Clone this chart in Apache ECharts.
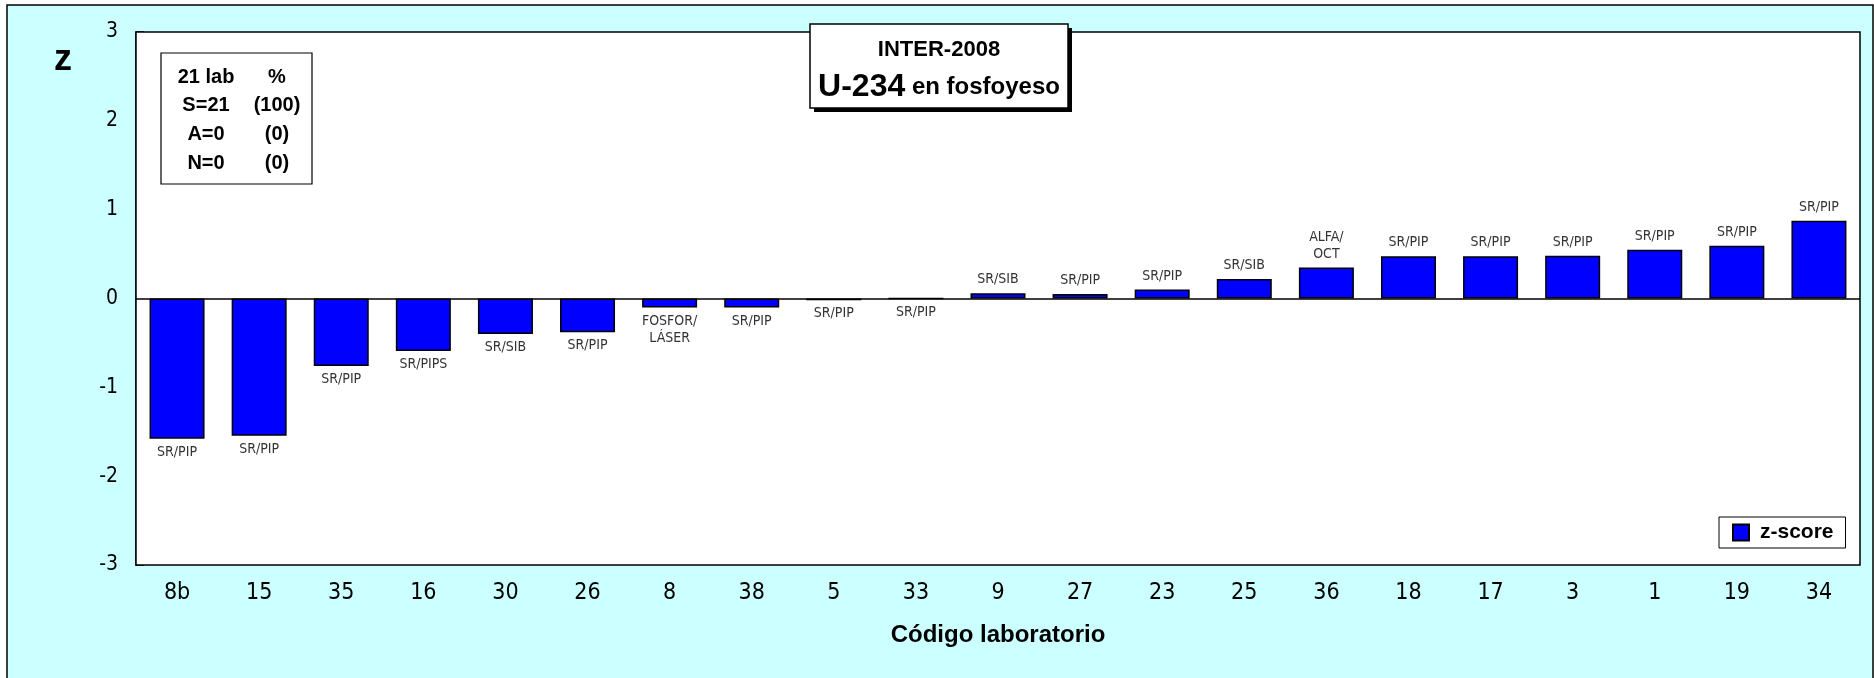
<!DOCTYPE html>
<html>
<head>
<meta charset="utf-8">
<script src="https://cdn.jsdelivr.net/npm/echarts@6/dist/echarts.min.js"></script>
<style>
html,body{margin:0;padding:0;background:#fff;}
#chart{width:1874px;height:678px;}
</style>
</head>
<body>
<div id="chart"></div>
<script>
const categories = ['8b','15','35','16','30','26','8','38','5','33','9','27','23','25','36','18','17','3','1','19','34'];
const zScores = [-1.58,-1.545,-0.76,-0.59,-0.40,-0.38,-0.10,-0.10,-0.02,0.00,0.06,0.05,0.10,0.22,0.35,0.475,0.475,0.48,0.55,0.595,0.876];
const methods = ['SR/PIP','SR/PIP','SR/PIP','SR/PIPS','SR/SIB','SR/PIP','FOSFOR/\nLÁSER','SR/PIP','SR/PIP','SR/PIP','SR/SIB','SR/PIP','SR/PIP','SR/SIB','ALFA/\nOCT','SR/PIP','SR/PIP','SR/PIP','SR/PIP','SR/PIP','SR/PIP'];
const yTicks = [-3,-2,-1,0,1,2,3];
const statsRows = [['21 lab','%'],['S=21','(100)'],['A=0','(0)'],['N=0','(0)']];
const titleLine1 = 'INTER-2008';
const titleMain = 'U-234';
const titleSub = ' en fosfoyeso';
const xName = 'Código laboratorio';
const yName = 'z';
const seriesName = 'z-score';

const narrow = "'DejaVu Sans Condensed','Liberation Sans Narrow',sans-serif";
const arial = "'Liberation Sans',Arial,sans-serif";

const chart = echarts.init(document.getElementById('chart'), null, {renderer:'canvas'});

const barData = zScores.map((v,i)=>({
  value: v,
  label: {position: v > 0 ? 'top' : 'bottom', formatter: methods[i]}
}));

const statsGraphics = [];
statsRows.forEach((r,i)=>{
  const y = 77 + i*28.7;
  statsGraphics.push({type:'text', x:206, y:y, style:{text:r[0], font:"bold 20px "+arial, fill:'#000', textAlign:'center', textVerticalAlign:'middle'}, z:20});
  statsGraphics.push({type:'text', x:277, y:y, style:{text:r[1], font:"bold 20px "+arial, fill:'#000', textAlign:'center', textVerticalAlign:'middle'}, z:20});
});

chart.setOption({
  animation:false,
  backgroundColor:'#fff',
  grid:{left:136, top:32, right:14, bottom:113, show:true, backgroundColor:'#fff', borderColor:'#000', borderWidth:1.5, z:2},
  legend:{
    show:true, left:1719, top:517, orient:'horizontal',
    backgroundColor:'#fff', borderColor:'#000', borderWidth:1, padding:[5,12,5,13],
    itemWidth:16, itemHeight:16, itemGap:10,
    textStyle:{fontFamily:arial, fontWeight:'bold', fontSize:21, color:'#000', padding:[0,0,0,6]},
    data:[{name:seriesName, icon:'rect'}]
  },
  xAxis:{
    type:'category', data:categories,
    axisLine:{show:false, onZero:false}, axisTick:{show:false},
    axisLabel:{fontFamily:narrow, fontSize:23, color:'#000', margin:17},
    splitLine:{show:false},
    name:xName, nameLocation:'middle', nameGap:58,
    nameTextStyle:{fontFamily:arial, fontWeight:'bold', fontSize:24, color:'#000'}
  },
  yAxis:{
    type:'value', min:yTicks[0], max:yTicks[yTicks.length-1], interval:1,
    axisLine:{show:true, lineStyle:{color:'#000', width:1.5}},
    axisTick:{show:true, inside:true, length:8, lineStyle:{color:'#000', width:1.5}},
    axisLabel:{fontFamily:narrow, fontSize:21, color:'#000', margin:18},
    splitLine:{show:false}
  },
  series:[{
    name:seriesName, type:'bar', data:barData, barCategoryGap:'33%',
    itemStyle:{color:'#0000FF', borderColor:'#000', borderWidth:1.5},
    label:{show:true, distance:5, fontFamily:narrow, fontSize:14, color:'#333', lineHeight:17, align:'center'},
    markLine:{silent:true, symbol:'none', label:{show:false}, lineStyle:{color:'#000', width:1.5, type:'solid'}, data:[{yAxis:0}], z:5}
  }],
  graphic:[
    {type:'rect', shape:{x:7, y:5, width:1866, height:690}, style:{fill:'#CCFFFF', stroke:'#000', lineWidth:1.5}, z:-10, silent:true},
    {type:'text', x:63, y:60, style:{text:yName, font:"bold 36px "+arial, fill:'#000', textAlign:'center', textVerticalAlign:'middle'}, z:20},
    {type:'rect', shape:{x:161, y:53, width:151, height:131}, style:{fill:'#fff', stroke:'#000', lineWidth:1.2}, z:15},
    ...statsGraphics,
    {type:'rect', shape:{x:814, y:28, width:258, height:84}, style:{fill:'#000'}, z:15},
    {type:'rect', shape:{x:810, y:24, width:258, height:84}, style:{fill:'#fff', stroke:'#000', lineWidth:1.5}, z:16},
    {type:'text', x:939, y:50, style:{text:titleLine1, font:"bold 22px "+arial, fill:'#000', textAlign:'center', textVerticalAlign:'middle'}, z:20},
    {type:'text', x:939, y:87, style:{
      text:'{a|'+titleMain+'}{b|'+titleSub+'}', textAlign:'center', textVerticalAlign:'middle',
      rich:{a:{font:"bold 32px "+arial, fill:'#000'}, b:{font:"bold 24px "+arial, fill:'#000'}}
    }, z:20}
  ]
});
</script>
</body>
</html>
